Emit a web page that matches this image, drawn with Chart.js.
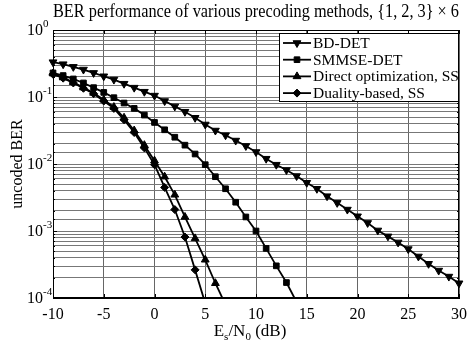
<!DOCTYPE html>
<html>
<head>
<meta charset="utf-8">
<script src="https://cdn.jsdelivr.net/npm/chart.js@4.4.0/dist/chart.umd.min.js"></script>
<style>
  html, body { margin: 0; padding: 0; background: #fff; }
  #wrap { width: 474px; height: 342px; }
</style>
</head>
<body>
<div id="wrap"><canvas id="ber" width="474" height="342"></canvas></div>
<script>
// Es/N0 in dB, one marker per dB
const snr = [-10, -9, -8, -7, -6, -5, -4, -3, -2, -1, 0, 1, 2, 3, 4, 5, 6, 7, 8, 9, 10,
  11, 12, 13, 14, 15, 16, 17, 18, 19, 20, 21, 22, 23, 24, 25, 26, 27, 28, 29, 30];

// uncoded BER
const bdDet = [0.331, 0.309, 0.282, 0.257, 0.229, 0.204, 0.182, 0.158, 0.138, 0.120,
  0.105, 0.0871, 0.0724, 0.0603, 0.0490, 0.0389, 0.0316, 0.0269, 0.0224, 0.0186,
  0.0151, 0.0120, 0.00977, 0.00813, 0.00661, 0.00525, 0.00427, 0.00331, 0.00263, 0.00209,
  0.00166, 0.00132, 0.00102, 0.000832, 0.000676, 0.000537, 0.000417, 0.000324, 0.000257, 0.000209,
  0.000166];
const smmseDet = [0.229, 0.209, 0.186, 0.162, 0.138, 0.117, 0.0977, 0.0813, 0.0676, 0.0537,
  0.0417, 0.0324, 0.0251, 0.0191, 0.0141, 0.00977, 0.00646, 0.00427, 0.00269, 0.00162,
  0.00100, 0.000550, 0.000302, 0.000170, 0.0000871];
const directOpt = [0.224, 0.195, 0.166, 0.138, 0.115, 0.0912, 0.0708, 0.0490, 0.0316, 0.0191,
  0.0112, 0.00646, 0.00347, 0.00162, 0.000776, 0.000372, 0.000166, 0.0000794];
const dualityBased = [0.219, 0.191, 0.162, 0.135, 0.112, 0.0871, 0.0676, 0.0457, 0.0295, 0.0174,
  0.00977, 0.00447, 0.00209, 0.000813, 0.000263, 0.0000832];

const xTicks = [-10, -5, 0, 5, 10, 15, 20, 25, 30];

const SERIF = "'Liberation Serif', 'Times New Roman', serif";

function pts(vals) {
  return vals.map((v, i) => ({ x: snr[i], y: v }));
}

function series(label, vals, style, rot, r) {
  return {
    label: label,
    data: pts(vals),
    borderColor: '#000',
    backgroundColor: '#000',
    borderWidth: 1.8,
    pointStyle: style,
    pointRotation: rot,
    pointRadius: r,
    pointBorderWidth: 1,
    pointBackgroundColor: '#000',
    pointBorderColor: '#000',
    tension: 0,
    clip: { left: 8, right: 8, top: 8, bottom: 0 }
  };
}

// box, inward ticks, y labels with exponents, axis titles and the boxed legend
const decorations = {
  id: 'decorations',
  afterDraw(chart) {
    const ctx = chart.ctx;
    const a = chart.chartArea;
    const xs = chart.scales.x, ys = chart.scales.y;
    ctx.save();
    ctx.strokeStyle = '#000';
    ctx.fillStyle = '#000';
    ctx.lineWidth = 1;
    ctx.strokeRect(a.left + 0.5, a.top + 0.5, a.right - a.left - 1, a.bottom - a.top - 1);

    // x tick marks
    ctx.beginPath();
    xs.ticks.forEach(t => {
      const px = Math.round(xs.getPixelForValue(t.value)) + 0.5;
      ctx.moveTo(px, a.bottom); ctx.lineTo(px, a.bottom - 4);
      ctx.moveTo(px, a.top); ctx.lineTo(px, a.top + 4);
    });
    // y tick marks + labels
    ys.ticks.forEach(t => {
      const py = Math.round(ys.getPixelForValue(t.value)) + 0.5;
      const len = t.major ? 4 : 2;
      ctx.moveTo(a.left, py); ctx.lineTo(a.left + len, py);
      ctx.moveTo(a.right, py); ctx.lineTo(a.right - len, py);
    });
    ctx.stroke();

    ys.ticks.forEach(t => {
      const e = Math.log10(t.value);
      if (Math.abs(e - Math.round(e)) > 1e-6) return;
      const py = ys.getPixelForValue(t.value);
      ctx.font = '16px ' + SERIF;
      ctx.textAlign = 'left';
      ctx.textBaseline = 'middle';
      ctx.fillText('10', 27, py + 1);
      const w = ctx.measureText('10').width;
      ctx.font = '11px ' + SERIF;
      ctx.fillText(String(Math.round(e)), 27 + w, py - 6);
    });

    // y axis title
    ctx.save();
    ctx.translate(18, (a.top + a.bottom) / 2);
    ctx.rotate(-Math.PI / 2);
    ctx.font = '16px ' + SERIF;
    ctx.textAlign = 'center';
    ctx.textBaseline = 'middle';
    ctx.fillText('uncoded BER', 0, 0);
    ctx.restore();

    // x axis title: E_s/N_0 (dB)
    const parts = [['E', false], ['s', true], ['/N', false], ['0', true], [' (dB)', false]];
    const big = '17px ' + SERIF, small = '11px ' + SERIF;
    let total = 0;
    parts.forEach(p => { ctx.font = p[1] ? small : big; total += ctx.measureText(p[0]).width; });
    let cx = 250 - total / 2;
    ctx.textAlign = 'left';
    ctx.textBaseline = 'alphabetic';
    parts.forEach(p => {
      ctx.font = p[1] ? small : big;
      ctx.fillText(p[0], cx, p[1] ? 340 : 336);
      cx += ctx.measureText(p[0]).width;
    });

    // legend
    const lx = 279, ly = 33, lw = 179, lh = 68;
    ctx.fillStyle = '#fff';
    ctx.fillRect(lx, ly, lw, lh);
    ctx.strokeStyle = '#000';
    ctx.strokeRect(lx + 0.5, ly + 0.5, lw, lh);
    ctx.font = '15.5px ' + SERIF;
    ctx.textBaseline = 'middle';
    chart.data.datasets.forEach((ds, i) => {
      const ry = 43 + i * 16.7;
      ctx.strokeStyle = '#000';
      ctx.lineWidth = 1.8;
      ctx.beginPath();
      ctx.moveTo(283, ry); ctx.lineTo(311, ry);
      ctx.stroke();
      ctx.fillStyle = '#000';
      ctx.lineWidth = 1;
      Chart.helpers.drawPoint(ctx, {
        pointStyle: ds.pointStyle, radius: ds.pointRadius,
        rotation: ds.pointRotation, borderWidth: 1
      }, 297, ry);
      ctx.fillText(ds.label, 313, ry + 1);
    });
    ctx.restore();
  }
};

new Chart(document.getElementById('ber'), {
  type: 'line',
  data: {
    datasets: [
      series('BD-DET', bdDet, 'triangle', 180, 4.5),
      series('SMMSE-DET', smmseDet, 'rect', 0, 4),
      series('Direct optimization, SS', directOpt, 'triangle', 0, 4.5),
      series('Duality-based, SS', dualityBased, 'rectRot', 0, 4)
    ]
  },
  options: {
    responsive: false,
    devicePixelRatio: 1,
    animation: false,
    layout: { padding: { left: 0, right: 0, top: 0, bottom: 0 } },
    plugins: {
      legend: { display: false },
      tooltip: { enabled: false },
      title: {
        display: true,
        fullSize: false,
        text: 'BER performance of various precoding methods, {1, 2, 3} \u00d7 6',
        color: '#000',
        font: { family: SERIF, size: 18, weight: 'normal' },
        padding: { top: 1, bottom: 7.4 }
      }
    },
    scales: {
      x: {
        type: 'linear',
        min: -10,
        max: 30,
        afterBuildTicks: s => { s.ticks = xTicks.map(v => ({ value: v })); },
        afterFit: s => { s.height = 44; },
        ticks: {
          color: '#000',
          font: { family: SERIF, size: 16 },
          padding: 7,
          maxRotation: 0
        },
        grid: { color: '#666', borderDash: [2, 3], drawTicks: false, lineWidth: 1 },
        border: { display: true, color: '#000' }
      },
      y: {
        type: 'logarithmic',
        min: 1e-4,
        max: 1,
        afterFit: s => { s.width = 53; },
        ticks: { display: false },
        grid: { color: '#777', borderDash: [2, 3], drawTicks: false, lineWidth: 1 },
        border: { display: true, color: '#000' }
      }
    }
  },
  plugins: [decorations]
});
</script>
</body>
</html>
